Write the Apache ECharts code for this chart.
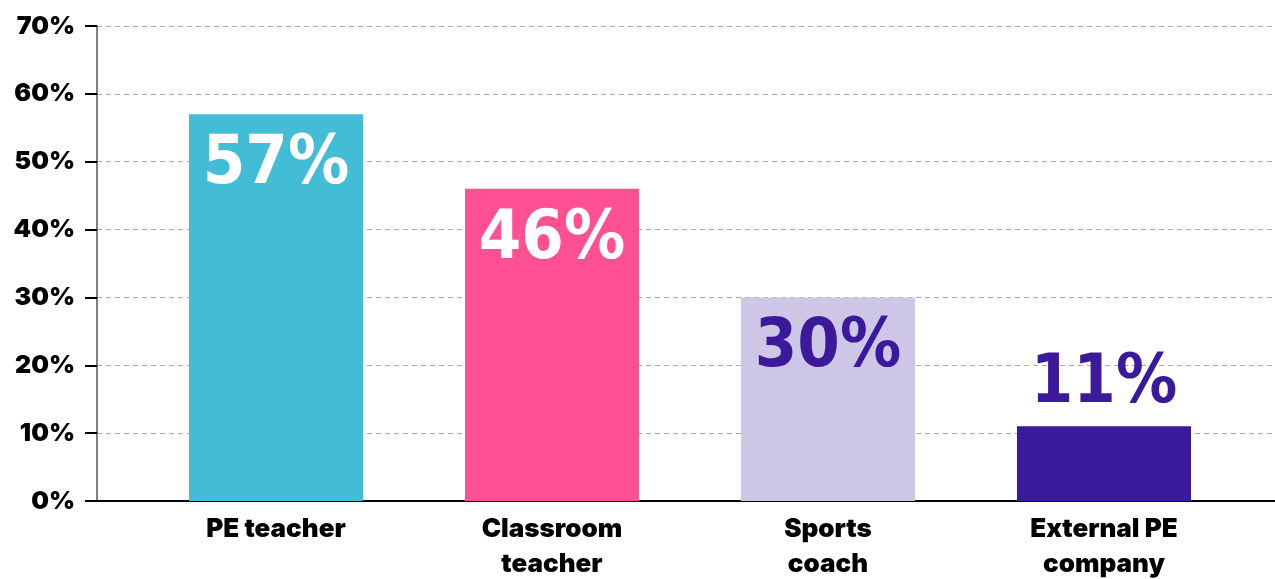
<!DOCTYPE html>
<html>
<head>
<meta charset="utf-8">
<script src="https://cdn.jsdelivr.net/npm/echarts@6/dist/echarts.min.js"></script>
<style>
html,body{margin:0;padding:0;background:#fff;}
#chart{width:1275px;height:579px;}
</style>
</head>
<body>
<div id="chart"></div>
<script>
var categories = ['PE teacher', 'Classroom\nteacher', 'Sports\ncoach', 'External PE\ncompany'];
var values = [57, 46, 30, 11];
var barColors = ['#43bdd6', '#ff5094', '#cdc6e6', '#3a1a9b'];
var labelColors = ['#ffffff', '#ffffff', '#3a1a9b', '#3a1a9b'];
var labelPositions = ['insideTop', 'insideTop', 'insideTop', 'top'];
var yTicks = [0, 10, 20, 30, 40, 50, 60, 70];

var chart = echarts.init(document.getElementById('chart'), null, {renderer: 'canvas'});

var data = values.map(function (v, i) {
  return {
    value: v,
    itemStyle: {color: barColors[i]},
    label: {
      color: labelColors[i],
      position: labelPositions[i],
      distance: labelPositions[i] === 'top' ? 8 : 17
    }
  };
});

var option = {
  animation: false,
  grid: [
    {left: 97, right: 0, top: 26, bottom: 78, outerBoundsMode: 'none', containLabel: false},
    {left: 138, right: 33, top: 26, bottom: 78, outerBoundsMode: 'none', containLabel: false}
  ],
  xAxis: [
    {
      gridIndex: 0, type: 'category', data: categories,
      axisLine: {show: true, lineStyle: {color: '#000', width: 2}},
      axisTick: {show: false}, axisLabel: {show: false}, splitLine: {show: false}
    },
    {
      gridIndex: 1, type: 'category', data: categories,
      axisLine: {show: false}, axisTick: {show: false},
      axisLabel: {
        show: true, margin: 11, interval: 0,
        fontFamily: 'Inter', fontWeight: 900, fontSize: 26, color: '#000',
        lineHeight: 35
      }
    }
  ],
  yAxis: [
    {
      gridIndex: 0, type: 'value', min: 0, max: 70, interval: 10,
      axisLine: {show: false},
      axisTick: {show: true, length: 12, lineStyle: {color: '#000', width: 2}},
      axisLabel: {
        margin: 22, fontFamily: 'Inter', fontWeight: 900, fontSize: 25, color: '#000',
        formatter: function (v) { return v + '%'; }
      },
      splitLine: {show: true, lineStyle: {color: '#aaaaaa', type: [5, 4], width: 1}}
    },
    {
      gridIndex: 0, type: 'value', min: 0, max: 71.5, position: 'left',
      axisLine: {show: true, lineStyle: {color: '#555', width: 1.5}},
      axisTick: {show: false}, axisLabel: {show: false}, splitLine: {show: false}
    },
    {
      gridIndex: 1, type: 'value', min: 0, max: 70, interval: 10, show: false
    }
  ],
  series: [
    {
      type: 'bar', xAxisIndex: 1, yAxisIndex: 2,
      barWidth: 174,
      data: data,
      label: {
        show: true,
        fontFamily: "'Liberation Sans Narrow', 'DejaVu Sans Condensed', 'DejaVu Sans', sans-serif",
        fontWeight: 'bold', fontSize: 68,
        formatter: function (p) { return p.value + '%'; }
      }
    }
  ]
};
chart.setOption(option);
</script>
</body>
</html>
